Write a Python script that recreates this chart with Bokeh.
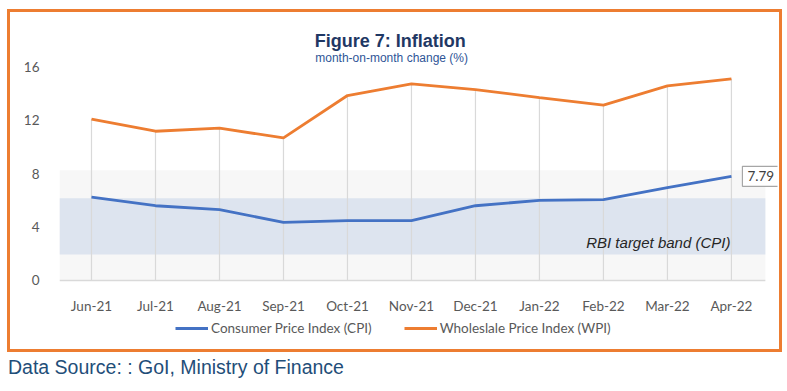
from bokeh.plotting import figure
from bokeh.layouts import column
from bokeh.models import (Legend, LegendItem, Label, BoxAnnotation, ColumnDataSource,
                          Range1d, FixedTicker, Div)
from bokeh.embed import file_html
from bokeh.resources import INLINE

# ---- data ----
months = ["Jun-21", "Jul-21", "Aug-21", "Sep-21", "Oct-21", "Nov-21",
          "Dec-21", "Jan-22", "Feb-22", "Mar-22", "Apr-22"]
cpi = [6.23, 5.59, 5.30, 4.35, 4.48, 4.48, 5.59, 5.99, 6.05, 6.95, 7.79]
wpi = [12.07, 11.16, 11.39, 10.66, 13.83, 14.70, 14.27, 13.68, 13.11, 14.55, 15.08]
band_low, band_high = 1.95, 6.15
shade_top = 8.25
y_ticks = [0, 4, 8, 12, 16]

FONT = "Lato"
GREY = "#595959"
BLUE = "#4472C4"
ORANGE = "#ED7D31"

idx = list(range(len(months)))
src = ColumnDataSource(dict(x=idx, cpi=cpi, wpi=wpi, zero=[0] * len(months)))
x_lo = -0.5
x_hi = len(months) - 0.47

p = figure(width=769, height=337,
           x_range=Range1d(-0.5, 10.72), y_range=Range1d(-5.159, 19.888),
           output_backend="svg", toolbar_location=None,
           min_border_left=49, min_border_right=2,
           min_border_top=2, min_border_bottom=0)
p.outline_line_color = None
p.background_fill_color = "white"
p.border_fill_color = "white"
p.xgrid.visible = False
p.ygrid.visible = False

# y axis
p.yaxis.ticker = FixedTicker(ticks=y_ticks)
p.yaxis.axis_line_color = None
p.yaxis.major_tick_line_color = None
p.yaxis.minor_tick_line_color = None
p.yaxis.major_label_standoff = 14
p.yaxis.major_label_text_font = FONT
p.yaxis.major_label_text_font_size = "13.5px"
p.yaxis.major_label_text_color = GREY

# x axis (category labels on integer positions), drawn at y = 0
p.xaxis.fixed_location = 0
p.xaxis.ticker = FixedTicker(ticks=idx)
p.xaxis.major_label_overrides = {i: m for i, m in zip(idx, months)}
p.xaxis.axis_line_color = None
p.xaxis.major_tick_line_color = None
p.xaxis.minor_tick_line_color = None
p.xaxis.major_label_standoff = 12
p.xaxis.major_label_text_font = FONT
p.xaxis.major_label_text_font_size = "13.5px"
p.xaxis.major_label_text_color = GREY

# shaded regions
p.add_layout(BoxAnnotation(left=x_lo, right=x_hi, bottom=0, top=shade_top,
                           fill_color="#F7F7F7", fill_alpha=1, line_color=None,
                           level="underlay"))
p.add_layout(BoxAnnotation(left=x_lo, right=x_hi, bottom=band_low, top=band_high,
                           fill_color="#DDE4EF", fill_alpha=1, line_color=None,
                           level="underlay"))

# baseline
p.segment(x0=[x_lo], y0=[0], x1=[x_hi], y1=[0], line_color="#D9D9D9", line_width=1.5)

# drop lines
p.segment(x0="x", y0="zero", x1="x", y1="wpi", source=src,
          line_color="#D9D9D9", line_width=1.2)

r_cpi = p.line("x", "cpi", source=src, line_color=BLUE, line_width=2.8)
r_wpi = p.line("x", "wpi", source=src, line_color=ORANGE, line_width=2.8)

legend = Legend(items=[LegendItem(label="Consumer Price Index (CPI)", renderers=[r_cpi]),
                       LegendItem(label="Wholeslale Price Index (WPI)", renderers=[r_wpi])],
                orientation="horizontal", location=(116, 13),
                glyph_width=33, glyph_height=16, label_height=16,
                label_standoff=3, spacing=32, padding=0, margin=0,
                border_line_color=None, background_fill_alpha=0,
                label_text_font=FONT, label_text_font_size="13.5px",
                label_text_color=GREY)
p.add_layout(legend, "center")

# callout label
p.add_layout(Label(x=idx[-1], y=cpi[-1], text="7.79", x_offset=11,
                   text_align="left", text_baseline="middle",
                   text_font=FONT, text_font_size="13.5px", text_color="#404040",
                   padding=5, border_line_color="#A6A6A6", border_line_width=1.2,
                   background_fill_color="white"))

# band label
p.add_layout(Label(x=idx[-1], y=2.86, text="RBI target band (CPI)", x_offset=-1,
                   text_align="right", text_baseline="alphabetic",
                   text_font="Liberation Sans", text_font_style="italic",
                   text_font_size="15px", text_color="#262626"))

# title and subtitle
p.add_layout(Label(x=4.67, y=17.94, text="Figure 7: Inflation", text_align="center",
                   text_baseline="alphabetic", text_font="Liberation Sans",
                   text_font_style="bold", text_font_size="18px",
                   text_color="#1F3864"))
p.add_layout(Label(x=4.69, y=16.67, text="month-on-month change (%)", text_align="center",
                   text_baseline="alphabetic", text_font="Liberation Sans",
                   text_font_size="12px", text_color="#2F5597"))

boxed = column(p, margin=(9, 0, 0, 7),
               styles={"border": "3px solid " + ORANGE})
source_note = Div(text="Data Source: : GoI, Ministry of Finance", margin=(6, 0, 0, 8),
                  styles={"font-family": "Liberation Sans", "font-size": "19.5px",
                          "color": "#1F4E79", "line-height": "1"})
layout = column(boxed, source_note, margin=0)

open("out.html", "w").write(file_html(layout, INLINE))
